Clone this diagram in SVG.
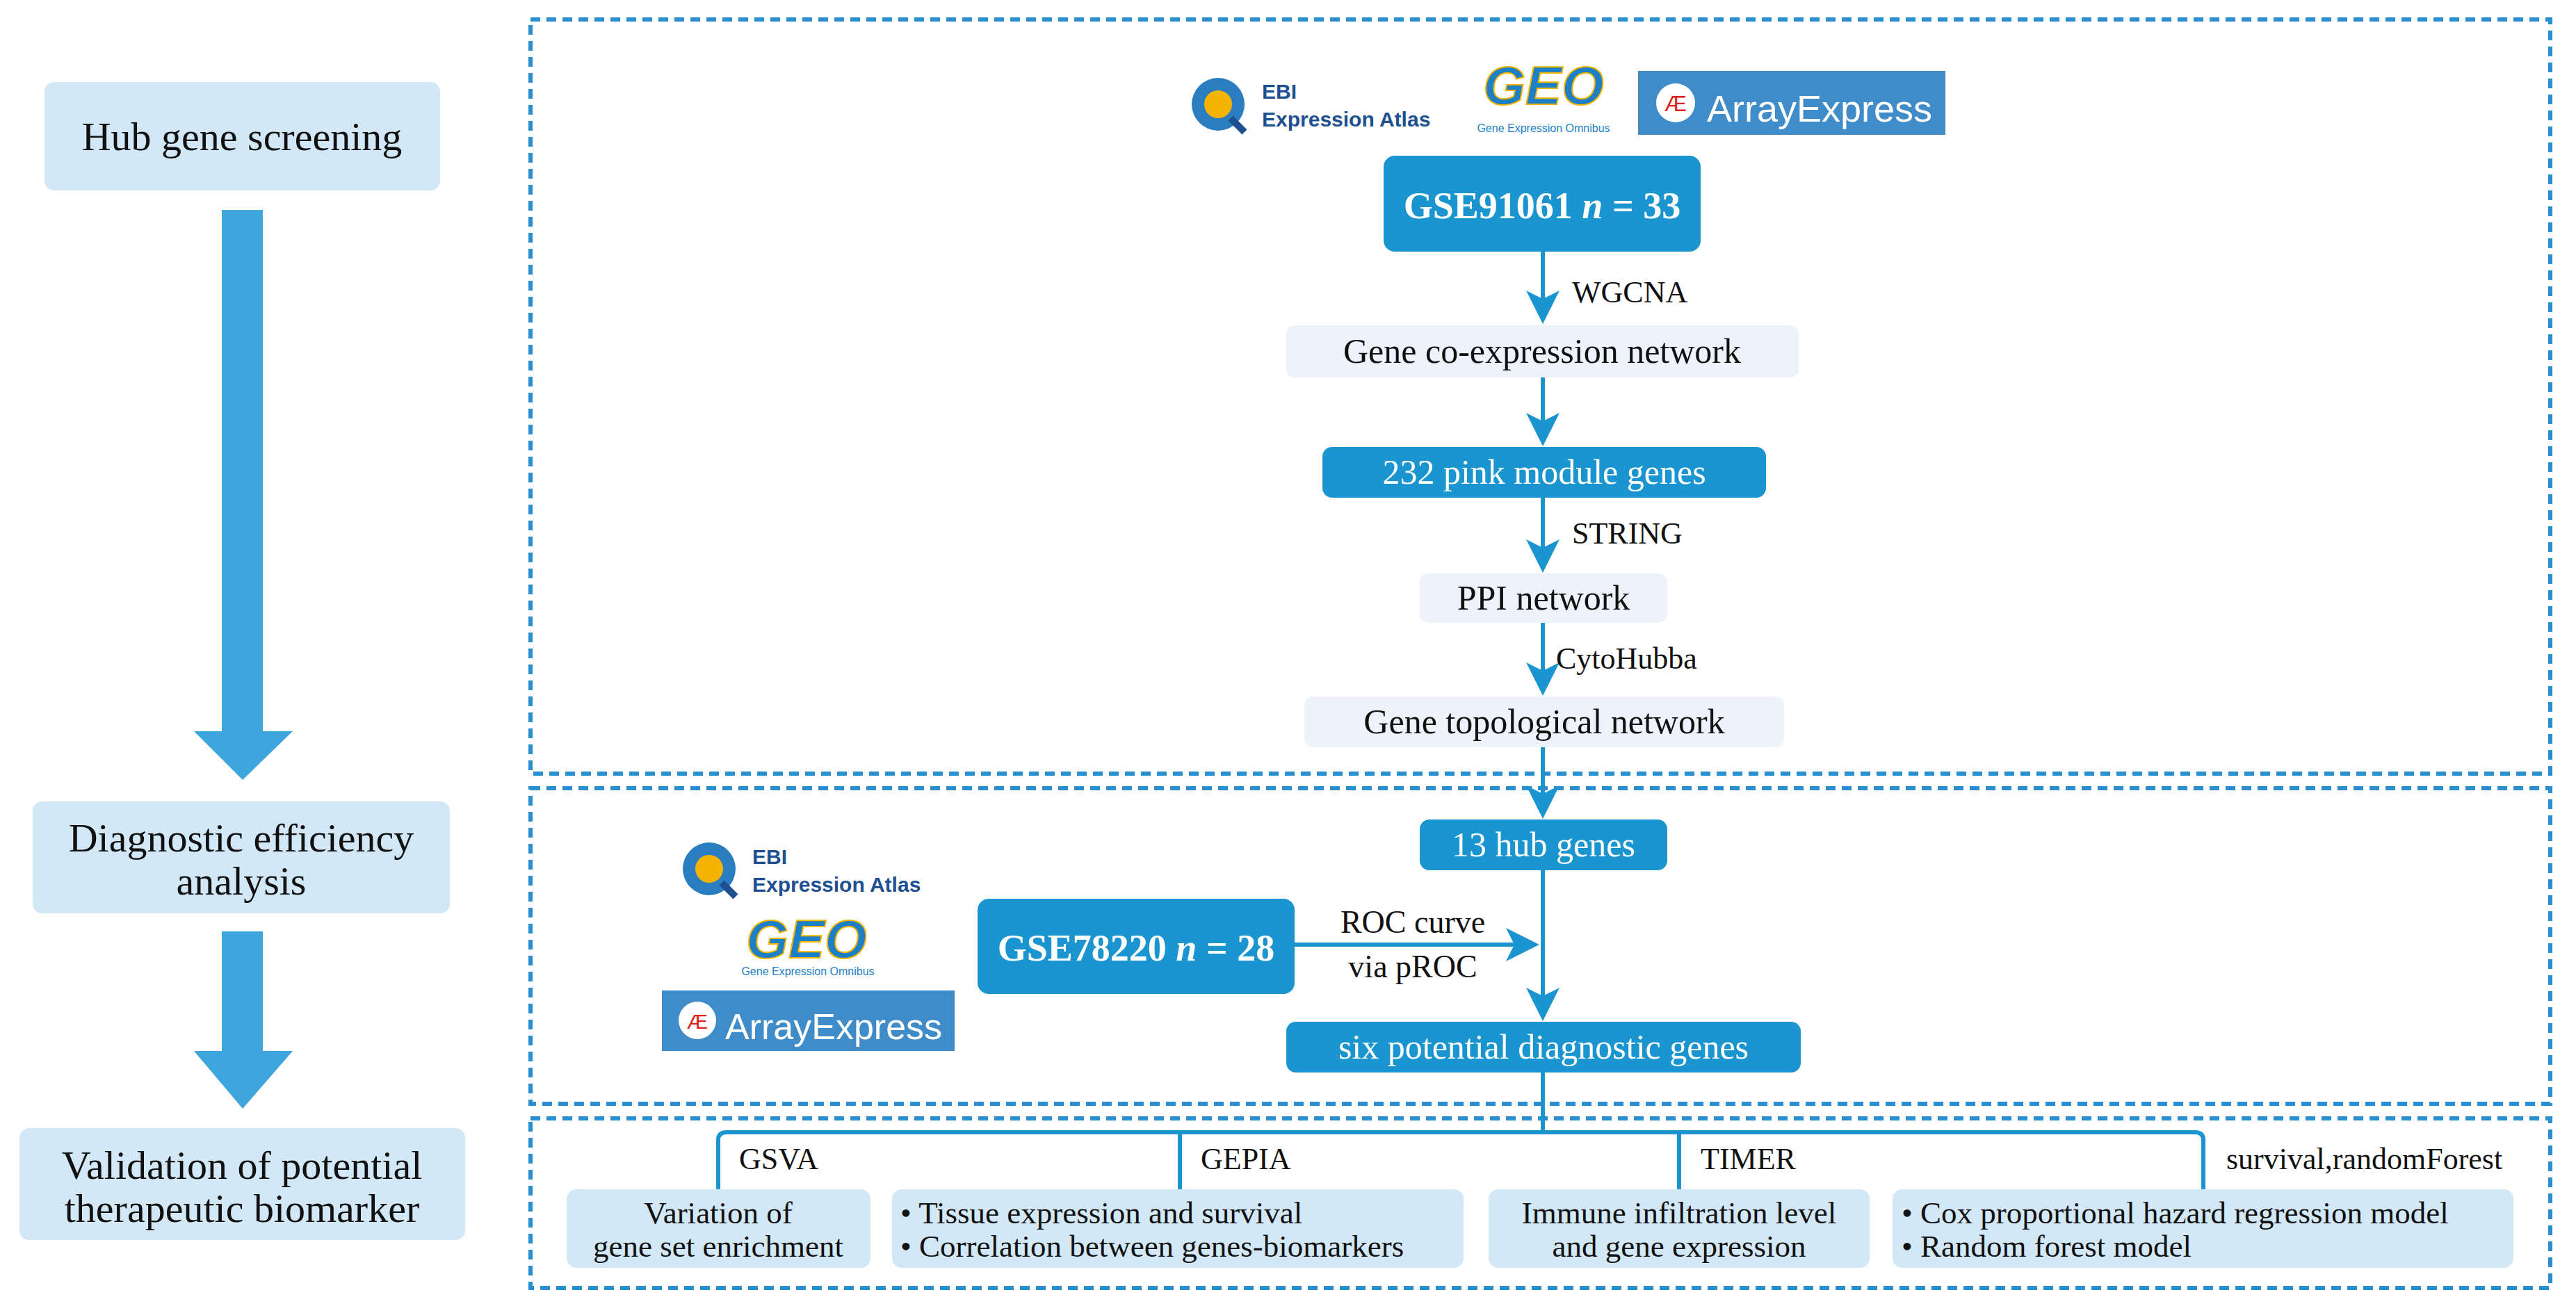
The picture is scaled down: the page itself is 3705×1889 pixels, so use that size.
<svg xmlns="http://www.w3.org/2000/svg" width="3705" height="1889" viewBox="0 0 3705 1889">
<style>
.dash{fill:none;stroke:#2a8fd0;stroke-width:6;stroke-dasharray:14 9}
.lb{fill:#d3e8f6}
.gb{fill:#eef2fa}
.db{fill:#1a95cf}
.t{font-family:"Liberation Serif",serif;fill:#111}
.w{font-family:"Liberation Serif",serif;fill:#fff}
.c{stroke:#1a95cf;stroke-width:6;fill:none}
.s{font-family:"Liberation Sans",sans-serif}
</style>
<defs>
<marker id="a" markerWidth="8" markerHeight="8" refX="7" refY="4" orient="auto" markerUnits="strokeWidth"><path d="M0,0 L8,4 L0,8 L2,4 z" fill="#1a95cf"/></marker>
</defs>
<rect width="3705" height="1889" fill="#fff"/>
<g id="left">
<g id="hub-screening"><rect class="lb" x="64" y="118" width="569" height="156" rx="14"/><text class="t" x="348" y="216" font-size="58" text-anchor="middle">Hub gene screening</text></g>
<path d="M319,302 H378 V1052 H421 L349,1122 L279,1052 H319 Z" fill="#3ea6dd"/>
<g id="diag-eff"><rect class="lb" x="47" y="1153" width="600" height="161" rx="14"/><text class="t" x="347" y="1225" font-size="58" text-anchor="middle">Diagnostic efficiency</text><text class="t" x="347" y="1287" font-size="58" text-anchor="middle">analysis</text></g>
<path d="M319,1340 H378 V1512 H421 L349,1595 L279,1512 H319 Z" fill="#3ea6dd"/>
<g id="validation"><rect class="lb" x="28" y="1623" width="641" height="161" rx="14"/><text class="t" x="348" y="1696" font-size="58" text-anchor="middle">Validation of potential</text><text class="t" x="348" y="1758" font-size="58" text-anchor="middle">therapeutic biomarker</text></g>
</g>
<g id="frames">
<rect class="dash" x="763" y="28" width="2905" height="1085"/>
<rect class="dash" x="763" y="1134" width="2905" height="454"/>
<rect class="dash" x="763" y="1609" width="2905" height="244"/>
</g>
<g id="logos">
<g id="logo-top" class="s">
<circle cx="1752" cy="150" r="38" fill="#2a7dc0"/><circle cx="1752" cy="150" r="20" fill="#f5b400"/><line x1="1770" y1="170" x2="1790" y2="190" stroke="#1d4f91" stroke-width="10"/>
<text x="1815" y="142" font-size="30" font-weight="bold" fill="#1d4f91">EBI</text>
<text x="1815" y="182" font-size="30" font-weight="bold" fill="#1d4f91">Expression Atlas</text>
<text x="2220" y="150" font-size="78" font-weight="bold" fill="#1d7fc6" stroke="#f5b400" stroke-width="2" text-anchor="middle" font-style="italic">GEO</text>
<text x="2220" y="190" font-size="16" fill="#1d7fc6" text-anchor="middle">Gene Expression Omnibus</text>
<rect x="2356" y="102" width="442" height="92" fill="#3f8cc8"/><circle cx="2410" cy="148" r="28" fill="#fff"/><text x="2410" y="160" font-size="32" fill="#d22" text-anchor="middle">Æ</text>
<text x="2455" y="175" font-size="54" fill="#fff">ArrayExpress</text>
</g>
<g id="logo-mid" class="s">
<circle cx="1020" cy="1250" r="38" fill="#2a7dc0"/><circle cx="1020" cy="1250" r="20" fill="#f5b400"/><line x1="1038" y1="1270" x2="1058" y2="1290" stroke="#1d4f91" stroke-width="10"/>
<text x="1082" y="1243" font-size="30" font-weight="bold" fill="#1d4f91">EBI</text>
<text x="1082" y="1283" font-size="30" font-weight="bold" fill="#1d4f91">Expression Atlas</text>
<text x="1160" y="1378" font-size="78" font-weight="bold" fill="#1d7fc6" stroke="#f5b400" stroke-width="2" text-anchor="middle" font-style="italic">GEO</text>
<text x="1162" y="1403" font-size="16" fill="#1d7fc6" text-anchor="middle">Gene Expression Omnibus</text>
<rect x="952" y="1425" width="421" height="87" fill="#3f8cc8"/><circle cx="1003" cy="1468" r="27" fill="#fff"/><text x="1003" y="1480" font-size="30" fill="#d22" text-anchor="middle">Æ</text>
<text x="1043" y="1495" font-size="52" fill="#fff">ArrayExpress</text>
</g>
</g>
<g id="connectors">
<line class="c" x1="2219" y1="362" x2="2219" y2="460" marker-end="url(#a)"/>
<line class="c" x1="2219" y1="543" x2="2219" y2="636" marker-end="url(#a)"/>
<line class="c" x1="2219" y1="716" x2="2219" y2="818" marker-end="url(#a)"/>
<line class="c" x1="2219" y1="896" x2="2219" y2="995" marker-end="url(#a)"/>
<line class="c" x1="2219" y1="1075" x2="2219" y2="1172" marker-end="url(#a)"/>
<line class="c" x1="2219" y1="1252" x2="2219" y2="1463" marker-end="url(#a)"/>
<line class="c" x1="1862" y1="1359" x2="2208" y2="1359" stroke-width="8" marker-end="url(#a)"/>
<line class="c" x1="2219" y1="1543" x2="2219" y2="1629"/>
<path class="c" d="M1033,1711 V1640 Q1033,1629 1045,1629 H3157 Q3169,1629 3169,1640 V1711" stroke-width="8"/>
<line class="c" x1="1697" y1="1629" x2="1697" y2="1711" stroke-width="5"/>
<line class="c" x1="2415" y1="1629" x2="2415" y2="1711" stroke-width="5"/>
<text class="t" x="2261" y="435" font-size="44">WGCNA</text>
<text class="t" x="2261" y="782" font-size="44">STRING</text>
<text class="t" x="2238" y="962" font-size="44">CytoHubba</text>
<text class="t" x="2032" y="1342" font-size="46" text-anchor="middle">ROC curve</text>
<text class="t" x="2032" y="1406" font-size="46" text-anchor="middle">via pROC</text>
<text class="t" x="1063" y="1682" font-size="44">GSVA</text>
<text class="t" x="1727" y="1682" font-size="44">GEPIA</text>
<text class="t" x="2446" y="1682" font-size="44">TIMER</text>
<text class="t" x="3202" y="1682" font-size="44">survival,randomForest</text>
</g>
<g id="gse91061"><rect class="db" x="1990" y="224" width="456" height="138" rx="16"/><text class="w" x="2218" y="314" font-size="54" font-weight="bold" text-anchor="middle">GSE91061 <tspan font-style="italic">n</tspan> = 33</text></g>
<g id="coexp"><rect class="gb" x="1850" y="468" width="737" height="75" rx="12"/><text class="t" x="2218" y="522" font-size="50" text-anchor="middle">Gene co-expression network</text></g>
<g id="pink"><rect class="db" x="1902" y="643" width="638" height="73" rx="14"/><text class="w" x="2221" y="696" font-size="50" text-anchor="middle">232 pink module genes</text></g>
<g id="ppi"><rect class="gb" x="2042" y="825" width="356" height="71" rx="12"/><text class="t" x="2220" y="877" font-size="50" text-anchor="middle">PPI network</text></g>
<g id="topo"><rect class="gb" x="1876" y="1002" width="690" height="73" rx="12"/><text class="t" x="2221" y="1055" font-size="50" text-anchor="middle">Gene topological network</text></g>
<g id="hub13"><rect class="db" x="2042" y="1179" width="356" height="73" rx="14"/><text class="w" x="2220" y="1232" font-size="50" text-anchor="middle">13 hub genes</text></g>
<g id="gse78220"><rect class="db" x="1406" y="1293" width="456" height="137" rx="16"/><text class="w" x="1634" y="1382" font-size="54" font-weight="bold" text-anchor="middle">GSE78220 <tspan font-style="italic">n</tspan> = 28</text></g>
<g id="six"><rect class="db" x="1850" y="1470" width="740" height="73" rx="14"/><text class="w" x="2220" y="1523" font-size="50" text-anchor="middle">six potential diagnostic genes</text></g>
<g id="gsva-box"><rect class="lb" x="815" y="1711" width="437" height="113" rx="14"/><text class="t" x="1033" y="1760" font-size="45" text-anchor="middle">Variation of</text><text class="t" x="1033" y="1808" font-size="45" text-anchor="middle">gene set enrichment</text></g>
<g id="gepia-box"><rect class="lb" x="1283" y="1711" width="822" height="113" rx="14"/><text class="t" x="1295" y="1760" font-size="45">• Tissue expression and survival</text><text class="t" x="1295" y="1808" font-size="45">• Correlation between genes-biomarkers</text></g>
<g id="timer-box"><rect class="lb" x="2141" y="1711" width="548" height="113" rx="14"/><text class="t" x="2415" y="1760" font-size="45" text-anchor="middle">Immune infiltration level</text><text class="t" x="2415" y="1808" font-size="45" text-anchor="middle">and gene expression</text></g>
<g id="cox-box"><rect class="lb" x="2722" y="1711" width="893" height="113" rx="14"/><text class="t" x="2735" y="1760" font-size="45">• Cox proportional hazard regression model</text><text class="t" x="2735" y="1808" font-size="45">• Random forest model</text></g>
</svg>
